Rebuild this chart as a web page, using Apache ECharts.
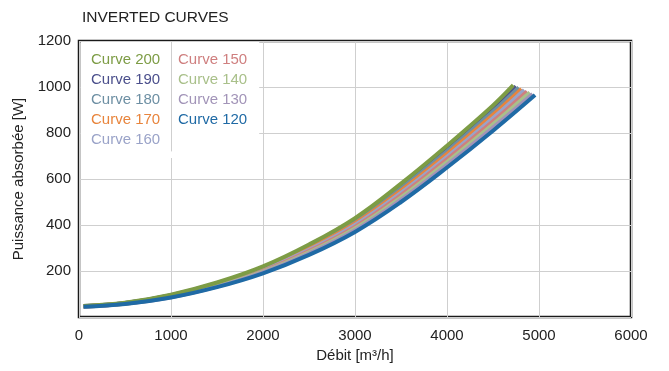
<!DOCTYPE html>
<html>
<head>
<meta charset="utf-8">
<script src="https://cdn.jsdelivr.net/npm/echarts@6/dist/echarts.min.js"></script>
<style>
html,body{margin:0;padding:0;background:#fff;}
#chart{width:669px;height:371px;}
</style>
</head>
<body>
<div id="chart"></div>
<script>
// Flow values (m3/h) shared by all curves, plus each curve's own end point
var flowPoints = [50, 500, 1000, 1500, 2000, 2500, 3000, 3500, 4000, 4500];
var curveNames = ['Curve 200', 'Curve 190', 'Curve 180', 'Curve 170', 'Curve 160',
                  'Curve 150', 'Curve 140', 'Curve 130', 'Curve 120'];
var curveColors = ['#7d9c45', '#4b4f8c', '#6d8fa3', '#e8843c', '#9aa3c8',
                   '#cf7f7f', '#a9c08a', '#a294b8', '#1f6aa5'];
// Power (W) at flowPoints, per curve
var p200 = [48, 62, 97, 150, 220, 315, 430, 580, 745, 920];
var p190 = [48, 61, 95, 147, 216, 309, 422, 570, 733, 906];
var p180 = [47, 61, 94, 145, 212, 304, 415, 560, 721, 893];
var p170 = [47, 60, 92, 142, 209, 298, 407, 550, 709, 879];
var p160 = [46, 60, 91, 140, 205, 292, 400, 540, 697, 865];
var p150 = [46, 59, 89, 137, 201, 287, 392, 530, 686, 851];
var p140 = [46, 58, 88, 135, 197, 281, 385, 520, 674, 838];
var p130 = [45, 58, 86, 132, 194, 276, 377, 510, 662, 824];
var p120 = [45, 57, 85, 130, 190, 270, 370, 500, 650, 810];
// End points of each curve
var endFlow  = [4720, 4750, 4780, 4810, 4840, 4870, 4900, 4930, 4957];
var endPower = [1008, 1003, 998, 992, 987, 981, 976, 970, 965];
// Axis ticks
var xTicks = [0, 1000, 2000, 3000, 4000, 5000, 6000];
var yTicks = [0, 200, 400, 600, 800, 1000, 1200];

var powerSets = [p200, p190, p180, p170, p160, p150, p140, p130, p120];
var FONT = 'Liberation Sans, Arial, Helvetica, sans-serif';

var series = curveNames.map(function (name, i) {
  var data = flowPoints.map(function (q, k) { return [q, powerSets[i][k]]; });
  data.push([endFlow[i], endPower[i]]);
  var s = {
    name: name,
    type: 'line',
    data: data,
    smooth: 0.4,
    showSymbol: false,
    symbol: 'none',
    color: curveColors[i],
    lineStyle: { width: 4, color: curveColors[i], cap: 'butt' },
    z: 2 + (i === 0 || i === 8 ? 0.5 : 0)
  };
  if (i === 8) {
    s.markLine = {
      silent: true,
      symbol: 'none',
      label: { show: false },
      lineStyle: { color: '#cfcfcf', width: 1, type: 'solid' },
      data: [[{ coord: [1000, 720] }, { coord: [1000, 1200] }]]
    };
  }
  return s;
});

function legendData(names) {
  return names.map(function (n) {
    var idx = curveNames.indexOf(n);
    return { name: n, icon: 'none', textStyle: { color: curveColors[idx] } };
  });
}

var chart = echarts.init(document.getElementById('chart'), null, { renderer: 'canvas' });
chart.setOption({
  animation: false,
  backgroundColor: '#fff',
  textStyle: { fontFamily: FONT },
  title: {
    text: 'INVERTED CURVES',
    left: 77, top: 5,
    textStyle: { fontFamily: FONT, fontSize: 15.5, fontWeight: 'normal', color: '#222' }
  },
  legend: [
    {
      orient: 'vertical', left: 81, top: 42, z: 1,
      backgroundColor: '#fff',
      padding: [8, 4, 8, 5],
      itemWidth: 0, itemHeight: 20, itemGap: 0,
      selectedMode: false,
      textStyle: { fontFamily: FONT, fontSize: 15, lineHeight: 20 },
      data: legendData(curveNames.slice(0, 5))
    },
    {
      orient: 'vertical', left: 160, top: 42, z: 1,
      backgroundColor: '#fff',
      padding: [8, 12, 28, 13],
      itemWidth: 0, itemHeight: 20, itemGap: 0,
      selectedMode: false,
      textStyle: { fontFamily: FONT, fontSize: 15, lineHeight: 20 },
      data: legendData(curveNames.slice(5))
    }
  ],
  grid: {
    left: 79, right: 38, top: 41, bottom: 54,
    show: true, borderColor: '#1a1a1a', borderWidth: 2.5,
    backgroundColor: 'transparent'
  },
  xAxis: {
    type: 'value',
    min: xTicks[0], max: xTicks[xTicks.length - 1], interval: 1000,
    name: 'Débit [m³/h]',
    nameLocation: 'middle', nameGap: 30,
    nameTextStyle: { fontFamily: FONT, fontSize: 15, color: '#222' },
    axisLine: { show: false },
    axisTick: { show: false },
    axisLabel: {
      fontFamily: FONT, fontSize: 15, color: '#222', margin: 11,
      formatter: function (v) { return String(v); }
    },
    splitLine: { show: true, lineStyle: { color: '#cfcfcf', width: 1 } }
  },
  yAxis: {
    type: 'value',
    min: yTicks[0], max: yTicks[yTicks.length - 1], interval: 200,
    name: 'Puissance absorbée [W]',
    nameLocation: 'middle', nameGap: 48,
    nameTextStyle: { fontFamily: FONT, fontSize: 15, color: '#222' },
    axisLine: { show: false },
    axisTick: { show: false },
    axisLabel: {
      fontFamily: FONT, fontSize: 15, color: '#222', margin: 8,
      formatter: function (v) { return v === 0 ? '' : String(v); }
    },
    splitLine: { show: true, lineStyle: { color: '#cfcfcf', width: 1 } }
  },
  series: series
});
</script>
</body>
</html>
